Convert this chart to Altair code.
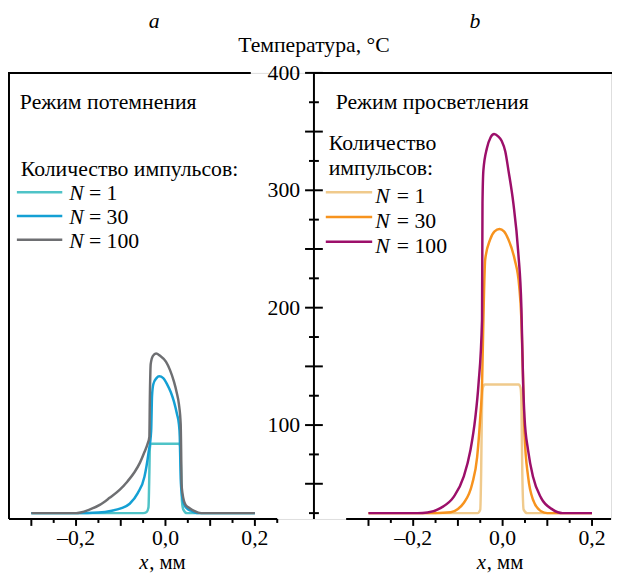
import altair as alt
import pandas as pd

# ---------------- data ----------------
# panel a (darkening mode)
a1_x = [-0.30, -0.050, -0.042, -0.038, -0.036, -0.035, -0.033, 0.031, 0.033, 0.035, 0.037, 0.040, 0.048, 0.20]
a1_t = [25, 25, 26, 30, 60, 80, 84, 84, 82, 60, 35, 28, 25, 25]

a30_x = [-0.30, -0.20, -0.15, -0.12, -0.100, -0.080, -0.062, -0.047, -0.038, -0.032, -0.030, -0.027,
         -0.020, -0.014, -0.005, 0.004, 0.012, 0.019, 0.026, 0.030, 0.032, 0.034, 0.037, 0.041, 0.048,
         0.057, 0.07, 0.20]
a30_t = [25, 25, 25.5, 27, 29, 33, 42, 56, 76, 95, 125, 135, 140, 141.5, 140, 134.5, 128, 120, 109,
         101, 90, 55, 40, 33, 29, 27, 25, 25]

a100_x = [-0.30, -0.20, -0.19, -0.17, -0.147, -0.125, -0.102, -0.085, -0.069, -0.057, -0.047, -0.040,
          -0.036, -0.035, -0.033, -0.028, -0.021, -0.012, 0.001, 0.010, 0.019, 0.025, 0.030, 0.034,
          0.035, 0.036, 0.038, 0.045, 0.055, 0.064, 0.08, 0.20]
a100_t = [25, 25, 25.5, 28, 32, 38, 45, 52, 60, 68, 77, 84, 90, 120, 152, 159, 161, 159, 154, 147,
          137, 128, 118, 101, 80, 50, 42, 32, 29, 27, 25, 25]

# panel b (brightening mode)
b1_x = [-0.30, -0.056, -0.050, -0.048, -0.046, -0.044, -0.040, 0.036, 0.040, 0.042, 0.044, 0.047, 0.055, 0.20]
b1_t = [25, 25, 28, 60, 120, 132, 134.5, 134.5, 132, 120, 60, 28, 25, 25]

b30_x = [-0.30, -0.15, -0.116, -0.100, -0.087, -0.068, -0.057, -0.050, -0.046, -0.043, -0.039, -0.028,
         -0.018, -0.007, 0.003, 0.013, 0.027, 0.037, 0.042, 0.046, 0.049, 0.057, 0.068, 0.086, 0.10, 0.20]
b30_t = [25, 25, 25.7, 28.5, 33.6, 50, 72.8, 106.5, 134.5, 190, 241, 258, 265, 267, 265, 258, 241,
         218.6, 190, 134.5, 92.4, 56, 36.4, 26.6, 25, 25]

b100_x = [-0.30, -0.19, -0.168, -0.138, -0.109, -0.087, -0.072, -0.061, -0.054, -0.046, -0.045, -0.043,
          -0.035, -0.027, -0.019, -0.010, -0.002, 0.006, 0.013, 0.024, 0.035, 0.042, 0.046, 0.049,
          0.057, 0.068, 0.086, 0.112, 0.134, 0.20]
b100_t = [25, 25, 25.5, 29.5, 39, 56, 78.5, 106.5, 134.5, 190, 289, 317, 336, 345, 348, 346, 342, 333,
          317, 289, 247, 200, 134.5, 106.5, 78.5, 56, 38, 28, 25, 25]

series_names = ["a1", "a30", "a100", "b1", "b30", "b100"]
series_colors = ["#4fc3c7", "#14a0d4", "#6e6f72", "#f0ca8c", "#f7931e", "#9c0f6a"]
legend_counts = ["1", "30", "100"]

x_label_values = [-0.2, 0.0, 0.2]
x_tick_labels = ["\u20130,2", "0,0", "0,2"]
x_major_ticks = [-0.3, -0.2, -0.1, 0.0, 0.1, 0.2]
x_minor_ticks = [-0.25, -0.15, -0.05, 0.05, 0.15, 0.25]
y_label_values = [100, 200, 300, 400]
y_major_ticks = [50, 100, 150, 200, 250, 300, 350, 400]
y_minor_ticks = [25, 75, 125, 175, 225, 275, 325, 375]

# ---------------- layout constants ----------------
FONT = "Liberation Serif, Times New Roman, Tinos, DejaVu Serif, Noto Serif, serif"
FS = 22
WT, H = 610, 452          # whole plot area: both panels side by side
SPLIT = 309               # pixel position of the shared temperature axis
PX_PER_MM = 453.0
XA0, XB0 = -0.35, -0.422  # x value at the left edge of each panel
YD = [20, 400]

# map a panel's x (mm) onto the common horizontal pixel scale
U_EXPR = (f"datum.p == 'a' ? (datum.x - ({XA0})) * {PX_PER_MM} "
          f": {SPLIT} + (datum.x - ({XB0})) * {PX_PER_MM}")

xscale = alt.Scale(domain=[0, WT], nice=False, zero=False)
yscale = alt.Scale(domain=YD, nice=False, zero=False)
cscale = alt.Scale(domain=series_names, range=series_colors)


def build_lines():
    rows = []
    for p, name, xs, ts in [("a", "a1", a1_x, a1_t), ("a", "a30", a30_x, a30_t), ("a", "a100", a100_x, a100_t),
                            ("b", "b1", b1_x, b1_t), ("b", "b30", b30_x, b30_t), ("b", "b100", b100_x, b100_t)]:
        for x, t in zip(xs, ts):
            rows.append({"p": p, "s": name, "x": x, "t": t})
    return pd.DataFrame(rows)


def one():
    return pd.DataFrame({"d": [0]})


def text(label, px, py, italic=False, align="left", size=FS, baseline="alphabetic"):
    return alt.Chart(pd.DataFrame({"label": [label]})).mark_text(
        font=FONT, fontSize=size, fontStyle="italic" if italic else "normal",
        align=align, baseline=baseline, color="black"
    ).encode(x=alt.value(px), y=alt.value(py), text="label:N")


def rule_px(x, x2=None, y=None, y2=None, color="black", width=2):
    enc = {"x": alt.value(x)}
    if x2 is not None:
        enc["x2"] = alt.value(x2)
    if y is not None:
        enc["y"] = alt.value(y)
    if y2 is not None:
        enc["y2"] = alt.value(y2)
    return alt.Chart(one()).mark_rule(color=color, strokeWidth=width).encode(**enc)


layers = []

# curves
layers.append(
    alt.Chart(build_lines()).transform_calculate(u=U_EXPR).mark_line(
        strokeWidth=2.5, interpolate="monotone"
    ).encode(
        x=alt.X("u:Q", scale=xscale, axis=None),
        y=alt.Y("t:Q", scale=yscale, axis=None),
        color=alt.Color("s:N", scale=cscale, legend=None),
        detail="s:N",
    )
)

# x axes: lines, ticks, labels (one per panel)
dom = pd.DataFrame({"p": ["a", "b"], "x": [-0.35, -0.35], "x2": [0.25, 0.25]})
layers.append(
    alt.Chart(dom).transform_calculate(
        u=U_EXPR,
        u2=f"min({WT}, datum.p == 'a' ? (datum.x2 - ({XA0})) * {PX_PER_MM} : {SPLIT} + (datum.x2 - ({XB0})) * {PX_PER_MM})",
    ).mark_rule(color="black", strokeWidth=2).encode(
        x=alt.X("u:Q", scale=xscale, axis=None), x2="u2:Q", y=alt.value(H))
)
for ticks, ln in [(x_major_ticks, 7), (x_minor_ticks, 4)]:
    tdf = pd.DataFrame({"p": ["a"] * len(ticks) + ["b"] * len(ticks), "x": ticks + ticks})
    layers.append(
        alt.Chart(tdf).transform_calculate(u=U_EXPR).transform_filter(f"datum.u <= {WT}").mark_rule(
            color="black", strokeWidth=2
        ).encode(x=alt.X("u:Q", scale=xscale, axis=None), y=alt.value(H), y2=alt.value(H + ln))
    )
ldf = pd.DataFrame({"p": ["a"] * 3 + ["b"] * 3, "x": x_label_values * 2, "lab": x_tick_labels * 2})
layers.append(
    alt.Chart(ldf).transform_calculate(u=U_EXPR).mark_text(
        font=FONT, fontSize=22, color="black", align="center", baseline="alphabetic"
    ).encode(x=alt.X("u:Q", scale=xscale, axis=None), y=alt.value(H + 26), text="lab:N")
)

# shared temperature axis (in the middle)
layers.append(rule_px(SPLIT, y=0, y2=H))
for vals, half in [(y_major_ticks, 9), (y_minor_ticks, 5)]:
    layers.append(
        alt.Chart(pd.DataFrame({"v": vals})).mark_rule(color="black", strokeWidth=2).encode(
            y=alt.Y("v:Q", scale=yscale, axis=None), x=alt.value(SPLIT - half), x2=alt.value(SPLIT + half))
    )
layers.append(
    alt.Chart(pd.DataFrame({"v": y_label_values})).mark_text(
        font=FONT, fontSize=22, color="black", align="right", baseline="middle"
    ).encode(y=alt.Y("v:Q", scale=yscale, axis=None), x=alt.value(SPLIT - 14), text="v:Q")
)

# frames
layers.append(rule_px(0, y=-1, y2=H))          # left border of panel a
layers.append(rule_px(-1, x2=245, y=0))        # top border of panel a
layers.append(rule_px(SPLIT, x2=WT + 2, y=0))  # top border of panel b

# legends
def legend(names, x0, sx0, sx1, nx, eqx, ly0, lstep, tdy):
    out = []
    for i, (nm, cnt) in enumerate(zip(names, legend_counts)):
        yy = ly0 + i * lstep
        col = series_colors[series_names.index(nm)]
        out.append(rule_px(x0 + sx0, x2=x0 + sx1, y=yy, color=col, width=2.5))
        out.append(text("N", x0 + nx, yy + tdy, italic=True))
        out.append(text("= " + cnt, x0 + eqx, yy + tdy))
    return out

layers += legend(["a1", "a30", "a100"], 0, 8, 54, 61, 81, 121, 24, 8)
layers += legend(["b1", "b30", "b100"], SPLIT, 12, 59, 62, 84, 121, 25, 11)

# texts: (label, x px, y px, italic, align, size)
texts = [
    ("a", 147, -45, True, "center", FS),
    ("b", SPLIT + 163, -45, True, "center", FS),
    ("Температура, °C", SPLIT, -21, False, "center", FS),
    ("Режим потемнения", 11, 37, False, "left", FS),
    ("Количество импульсов:", 12, 104, False, "left", FS),
    ("Режим просветления", SPLIT + 22, 37, False, "left", FS),
    ("Количество", SPLIT + 15, 78, False, "left", FS),
    ("импульсов:", SPLIT + 15, 103, False, "left", FS),
    ("x", 132, H + 51, True, "left", 21),
    (", мм", 142, H + 51, False, "left", 21),
    ("x", SPLIT + 165, H + 51, True, "left", 21),
    (", мм", SPLIT + 175, H + 51, False, "left", 21),
]
for lab, px, py, it, al, sz in texts:
    layers.append(text(lab, px, py, italic=it, align=al, size=sz))

chart = alt.layer(*layers).properties(
    width=WT, height=H,
    autosize=alt.AutoSizeParams(type="none"),
    padding={"left": 1, "top": 62, "right": 1, "bottom": 53},
).configure_view(stroke=None).configure(background="white")

chart.save("out.html", embed_options={"renderer": "svg", "actions": False})
